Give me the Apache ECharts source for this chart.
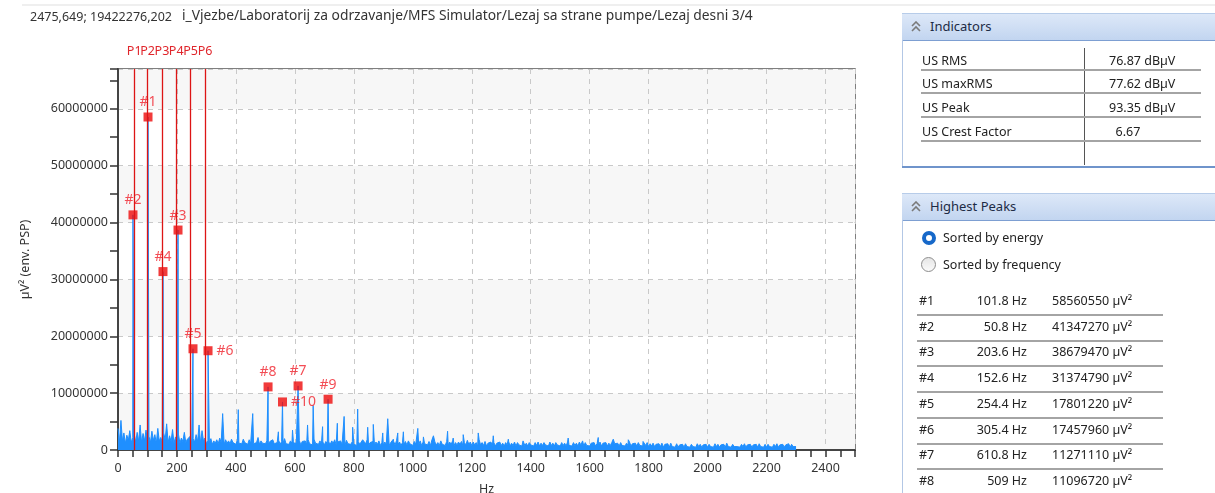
<!DOCTYPE html>
<html>
<head>
<meta charset="utf-8">
<script src="https://cdn.jsdelivr.net/npm/echarts@6/dist/echarts.min.js"></script>
<style>
  html,body{margin:0;padding:0;background:#fff;width:1215px;height:493px;overflow:hidden;font-family:"Noto Sans",sans-serif;}
  #c{position:absolute;left:0;top:0;width:1215px;height:493px;}
  .abs{position:absolute;white-space:nowrap;}
  .hdr{position:absolute;left:902px;width:313px;height:26px;background:linear-gradient(#dde8f8,#c2d5f0);border-top:1px solid #b7cce9;border-bottom:1px solid #7d9fd2;}
  .hdr span{position:absolute;left:28px;top:3px;font-size:13px;color:#1d2b45;}
  .hdr svg{position:absolute;left:9px;top:7px;}
  .txt{position:absolute;font-size:12.5px;color:#222;white-space:nowrap;line-height:16px;}
  .sep{position:absolute;height:2px;background:#a4a4a4;}
</style>
</head>
<body>
<div id="c"></div>
<div id="panels"></div>
<script>
// ---------------- data ----------------
// spectrum noise floor, sampled every 5 Hz from 0 to 2300 Hz (units of 100000 µV²)
const noiseStepHz = 5;
const noiseUnit = 100000;
const noise = [
  38, 14, 52, 16, 30, 12, 26, 17, 34, 13, 22, 28, 14, 31, 15, 44, 13, 29, 16, 35,
  15, 24, 13, 33, 17, 27, 12, 38, 16, 22, 14, 30, 18, 46, 13, 25, 15, 36, 12, 23,
  16, 28, 12, 21, 15, 31, 13, 19, 17, 24, 12, 20, 14, 27, 15, 19, 12, 34, 16, 21,
  11, 17, 13, 20, 10, 16, 12, 18, 11, 21, 13, 15, 10, 18, 12, 16, 11, 19, 13, 15,
  10, 17, 12, 15, 11, 19, 13, 16, 10, 18, 12, 15, 11, 14, 13, 22, 10, 16, 12, 15,
  11, 16, 10, 15, 12, 18, 11, 14, 13, 17, 10, 15, 12, 20, 11, 14, 10, 16, 12, 15,
  10, 14, 11, 17, 9, 15, 12, 16, 10, 18, 11, 14, 9, 19, 12, 15, 10, 16, 11, 14,
  9, 15, 11, 14, 10, 16, 12, 18, 9, 14, 11, 16, 10, 13, 9, 17, 11, 14, 10, 15,
  10, 13, 8, 15, 10, 14, 9, 16, 11, 18, 8, 13, 10, 15, 9, 14, 10, 16, 8, 13,
  9, 14, 10, 16, 8, 13, 11, 15, 9, 17, 10, 14, 8, 13, 10, 15, 9, 14, 11, 13,
  8, 15, 10, 13, 9, 16, 8, 14, 11, 13, 9, 15, 8, 18, 10, 14, 9, 13, 8, 16,
  10, 13, 8, 15, 9, 14, 10, 16, 8, 13, 9, 14, 10, 15, 8, 13, 9, 17, 10, 14,
  8, 14, 9, 13, 7, 18, 9, 13, 8, 15, 7, 12, 9, 14, 8, 13, 7, 12, 9, 14,
  8, 12, 7, 13, 9, 15, 7, 12, 8, 14, 7, 13, 9, 12, 7, 14, 8, 12, 7, 13,
  9, 12, 7, 13, 8, 14, 7, 12, 8, 13, 9, 11, 7, 14, 8, 12, 7, 13, 9, 12,
  7, 13, 8, 12, 7, 14, 8, 11, 7, 13, 8, 12, 7, 14, 9, 12, 7, 13, 8, 11,
  7, 12, 9, 13, 7, 11, 8, 14, 7, 12, 9, 13, 7, 12, 8, 13, 7, 11, 8, 12,
  7, 13, 8, 11, 7, 12, 8, 14, 7, 11, 8, 12, 7, 13, 8, 11, 7, 12, 8, 13,
  6, 11, 7, 12, 6, 10, 7, 11, 6, 12, 5, 10, 7, 11, 5, 12, 6, 9, 5, 11,
  5, 9, 6, 10, 5, 11, 6, 9, 5, 10, 6, 9, 5, 11, 6, 10, 5, 9, 6, 10,
  5, 10, 6, 9, 5, 11, 6, 10, 5, 9, 6, 10, 5, 12, 6, 9, 5, 10, 6, 9,
  6, 9, 5, 10, 6, 11, 5, 9, 6, 10, 5, 9, 6, 10, 5, 11, 6, 9, 5, 10,
  5, 10, 6, 9, 5, 10, 6, 11, 5, 9, 6, 10, 5, 9, 6, 11, 5, 10, 6, 9,
  6
];
// smaller unlabeled harmonic spikes (Hz, µV²)
const spikeHz  = [275, 355, 408, 457, 544, 592, 643, 662, 694, 744, 767, 796, 813, 830, 847, 866, 898, 915, 934, 949, 968, 985, 1017, 1036, 1070, 1118, 1137, 1171, 1222, 1248, 1273, 1324, 1374, 1527, 1576, 1629, 1680, 1731, 1781];
const spikeVal = [4400000, 6400000, 7100000, 6400000, 3200000, 3500000, 4400000, 7800000, 4100000, 4700000, 5900000, 4000000, 7200000, 1800000, 4000000, 4500000, 3000000, 5500000, 1900000, 3000000, 3200000, 1600000, 3800000, 2300000, 2500000, 3300000, 2100000, 2700000, 3000000, 1800000, 2500000, 1900000, 1600000, 2100000, 1600000, 2200000, 1900000, 1800000, 1500000];
// labelled highest peaks
const peakNames = ['#1', '#2', '#3', '#4', '#5', '#6', '#7', '#8', '#9', '#10'];
const peakHz    = [101.8, 50.8, 203.6, 152.6, 254.4, 305.4, 610.8, 509, 712.6, 558];
const peakVal   = [58560550, 41347270, 38679470, 31374790, 17801220, 17457960, 11271110, 11096720, 8930000, 8450000];
// cursor lines
const cursorNames = ['P1', 'P2', 'P3', 'P4', 'P5', 'P6'];
const cursorHz    = [55, 100.5, 149, 197.5, 246.5, 295.5];
// axis ticks
const xTicksMajor = 200, xTicksMinor = 50, xMax = 2500;
const yTicksMajor = 10000000, yTicksMinor = 5000000, yMax = 67000000;
// texts
const cursorText = '2475,649; 19422276,202';
const pathText = 'i_Vjezbe/Laboratorij za odrzavanje/MFS Simulator/Lezaj sa strane pumpe/Lezaj desni 3/4';
const indicatorNames  = ['US RMS', 'US maxRMS', 'US Peak', 'US Crest Factor'];
const indicatorValues = ['76.87 dBµV', '77.62 dBµV', '93.35 dBµV', '  6.67'];
const tableRank = ['#1', '#2', '#3', '#4', '#5', '#6', '#7', '#8'];
const tableHz   = ['101.8 Hz', '50.8 Hz', '203.6 Hz', '152.6 Hz', '254.4 Hz', '305.4 Hz', '610.8 Hz', '509 Hz'];
const tableVal  = ['58560550 µV²', '41347270 µV²', '38679470 µV²', '31374790 µV²', '17801220 µV²', '17457960 µV²', '11271110 µV²', '11096720 µV²'];

// ---------------- build spectrum ----------------
const pts = new Map();
noise.forEach((v, i) => pts.set(+(i * noiseStepHz).toFixed(2), v * noiseUnit));
spikeHz.forEach((f, i) => pts.set(f, spikeVal[i]));
peakHz.forEach((f, i) => pts.set(f, peakVal[i]));
const spectrum = [...pts.entries()].sort((a, b) => a[0] - b[0]);

// ---------------- chart ----------------
const FONT = 'Noto Sans';
const plain = v => String(Math.round(v));
const chart = echarts.init(document.getElementById('c'));
const peakData = peakHz.map((f, i) => {
  const d = { value: [f, peakVal[i]], name: peakNames[i] };
  if (peakNames[i] === '#6' || peakNames[i] === '#10') d.label = { position: 'right', distance: 4 };
  return d;
});
chart.setOption({
  animation: false,
  graphic: [
    { type: 'rect', shape: { x: 22, y: 4, width: 1193, height: 2 }, style: { fill: '#efefef' }, silent: true },
    { type: 'text', left: 30, top: 11, style: { text: cursorText, font: '12.5px "Noto Sans"', fill: '#333' } },
    { type: 'text', left: 182, top: 9, style: { text: pathText, font: '13.8px "Noto Sans"', fill: '#333' } }
  ],
  grid: { left: 118, right: 360, top: 69, bottom: 43, show: true, borderColor: '#555', borderWidth: 1.5, outerBoundsMode: 'none', containLabel: false },
  xAxis: [
    {
      type: 'value', min: 0, max: xMax, interval: xTicksMajor,
      name: 'Hz', nameLocation: 'middle', nameGap: 33,
      nameTextStyle: { fontFamily: FONT, fontSize: 12.5, color: '#333' },
      axisLine: { show: true, lineStyle: { color: '#444', width: 2 } },
      axisTick: { show: false },
      splitLine: { show: true, lineStyle: { type: [5, 5], color: '#c9c9c9', width: 1 } },
      axisLabel: { margin: 12, color: '#333', fontSize: 12.5, fontFamily: FONT, showMaxLabel: false, formatter: plain }
    },
    {
      type: 'value', min: 0, max: xMax, interval: xTicksMinor, position: 'bottom',
      axisLine: { show: false }, axisLabel: { show: false }, splitLine: { show: false },
      axisTick: { show: true, length: 7, lineStyle: { color: '#333', width: 1.5 } }
    }
  ],
  yAxis: [
    {
      type: 'value', min: 0, max: yMax, interval: yTicksMajor,
      name: 'µV² (env. PSP)', nameLocation: 'middle', nameGap: 86,
      nameTextStyle: { fontFamily: FONT, fontSize: 12.5, color: '#333' },
      axisLine: { show: true, lineStyle: { color: '#444', width: 2 } },
      axisTick: { show: false },
      splitLine: { show: true, lineStyle: { type: [5, 5], color: '#c9c9c9', width: 1 } },
      splitArea: { show: true, areaStyle: { color: ['#f7f7f7', '#ffffff'] } },
      axisLabel: { margin: 10, color: '#333', fontSize: 12.5, fontFamily: FONT, showMaxLabel: false, formatter: plain }
    },
    {
      type: 'value', min: 0, max: yMax, interval: yTicksMinor, position: 'left',
      axisLine: { show: false }, axisLabel: { show: false }, splitLine: { show: false },
      axisTick: { show: true, length: 8, lineStyle: { color: '#333', width: 1.5 } }
    }
  ],
  series: [
    {
      type: 'line', data: spectrum, xAxisIndex: 0, yAxisIndex: 0,
      showSymbol: false, symbol: 'none', z: 2,
      lineStyle: { color: '#1f8fff', width: 1 },
      areaStyle: { color: '#1f8fff', opacity: 1 }, silent: true
    },
    {
      type: 'line', data: [], xAxisIndex: 0, yAxisIndex: 0, z: 3, silent: true,
      markLine: {
        silent: true, symbol: ['none', 'none'], animation: false,
        lineStyle: { color: '#dd1515', width: 1.3, type: 'solid' },
        label: { show: true, position: 'end', formatter: p => p.name, color: '#e0252b', fontSize: 12.5, fontFamily: FONT, distance: 11 },
        emphasis: { disabled: true },
        data: cursorHz.map((f, i) => ({ xAxis: f, name: cursorNames[i] }))
      }
    },
    {
      type: 'scatter', data: peakData, xAxisIndex: 0, yAxisIndex: 0, z: 4, silent: true,
      symbol: 'rect', symbolSize: 9, itemStyle: { color: '#ee0a0a' },
      label: { show: true, position: 'top', distance: 3, formatter: p => p.name, color: '#f0202a', fontSize: 14, fontFamily: FONT }
    }
  ]
});

// ---------------- side panels ----------------
const P = document.getElementById('panels');
function el(html) { P.insertAdjacentHTML('beforeend', html); }
const chevron = '<svg width="10" height="12"><polyline points="1,5 5,1 9,5" fill="none" stroke="#7a7a7a" stroke-width="1.6"/><polyline points="1,10 5,6 9,10" fill="none" stroke="#7a7a7a" stroke-width="1.6"/></svg>';
// Indicators panel
el('<div class="hdr" style="top:13px;">' + chevron + '<span>Indicators</span></div>');
el('<div class="abs" style="left:902px;top:40px;width:1px;height:127px;background:#b3c7e5;"></div>');
el('<div class="abs" style="left:902px;top:166px;width:313px;height:2px;background:#6f94cb;"></div>');
el('<div class="abs" style="left:1084px;top:48px;width:1px;height:117px;background:#555;"></div>');
indicatorNames.forEach((n, i) => {
  const y = 52.5 + i * 23.7;
  el('<div class="txt" style="left:922px;top:' + y + 'px;">' + n + '</div>');
  el('<div class="txt" style="left:1109px;top:' + y + 'px;white-space:pre;">' + indicatorValues[i] + '</div>');
  el('<div class="sep" style="left:921px;width:280px;top:' + (68.5 + i * 23.7) + 'px;"></div>');
});
// Highest peaks panel
el('<div class="hdr" style="top:193px;">' + chevron + '<span>Highest Peaks</span></div>');
el('<div class="abs" style="left:902px;top:220px;width:1px;height:273px;background:#b3c7e5;"></div>');
el('<div class="abs" style="left:922px;top:231px;width:6px;height:6px;border:4px solid #1668c9;border-radius:50%;background:#fff;"></div>');
el('<div class="txt" style="left:943px;top:230px;">Sorted by energy</div>');
el('<div class="abs" style="left:921px;top:257px;width:13px;height:13px;border:1px solid #8c8c8c;border-radius:50%;background:linear-gradient(#e6e6e6,#fafafa);"></div>');
el('<div class="txt" style="left:943px;top:257px;">Sorted by frequency</div>');
tableRank.forEach((r, i) => {
  const y = 293 + i * 25.7;
  el('<div class="txt" style="left:919px;top:' + y + 'px;">' + r + '</div>');
  el('<div class="txt" style="left:960px;width:67px;text-align:right;top:' + y + 'px;">' + tableHz[i] + '</div>');
  el('<div class="txt" style="left:1052px;top:' + y + 'px;">' + tableVal[i] + '</div>');
  el('<div class="sep" style="left:917px;width:246px;top:' + (314 + i * 25.7) + 'px;"></div>');
});
</script>
</body>
</html>
